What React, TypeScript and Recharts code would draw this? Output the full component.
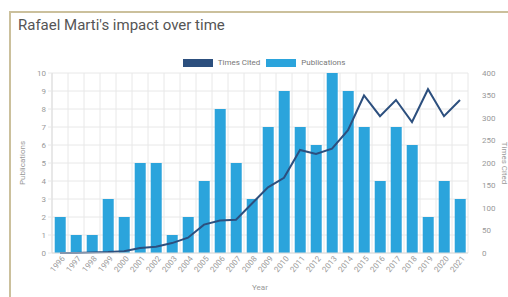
import React from "react";
import {
  ComposedChart,
  Bar,
  Line,
  XAxis,
  YAxis,
  CartesianGrid,
  Legend,
} from "recharts";

const years = [
  "1996", "1997", "1998", "1999", "2000", "2001", "2002", "2003", "2004",
  "2005", "2006", "2007", "2008", "2009", "2010", "2011", "2012", "2013",
  "2014", "2015", "2016", "2017", "2018", "2019", "2020", "2021",
];
const publications = [2, 1, 1, 3, 2, 5, 5, 1, 2, 4, 8, 5, 3, 7, 9, 7, 6, 10, 9, 7, 4, 7, 6, 2, 4, 3];
const timesCited = [0, 0, 1, 2, 4, 11, 14, 22, 34, 63, 72, 74, 110, 146, 167, 229, 220, 232, 273, 350, 304, 340, 291, 364, 304, 340];
const pubTicks = [0, 1, 2, 3, 4, 5, 6, 7, 8, 9, 10];
const citeTicks = [0, 50, 100, 150, 200, 250, 300, 350, 400];

const data = years.map((y, i) => ({
  year: y,
  Publications: publications[i],
  "Times Cited": timesCited[i],
}));

const BAR = "#2ba4dc";
const LINE = "#2c4f7e";
const TXT = "#999";
const GRID = "#e8e8e8";

function YearTick({ x, y, payload }: any) {
  return (
    <text
      x={x + 3}
      y={y}
      transform={`rotate(-50 ${x + 3} ${y})`}
      textAnchor="end"
      fontSize={8}
      fill={TXT}
      dy={3}
    >
      {payload.value}
    </text>
  );
}

function LegendBox() {
  const item = (label: string, color: string) => (
    <span style={{ display: "inline-flex", alignItems: "center", margin: "0 3px" }}>
      <span style={{ display: "inline-block", width: 30, height: 8, background: color, marginRight: 5 }} />
      <span style={{ fontSize: 8, color: "#777" }}>{label}</span>
    </span>
  );
  return (
    <div style={{ textAlign: "center", lineHeight: "10px" }}>
      {item("Times Cited", LINE)}
      {item("Publications", BAR)}
    </div>
  );
}

export default function App() {
  return (
    <div
      style={{
        position: "absolute",
        left: 0,
        top: 0,
        width: 508,
        height: 297,
        background: "#fff",
        overflow: "hidden",
        fontFamily: "Roboto, sans-serif",
      }}
    >
      <div
        style={{
          position: "absolute",
          left: 9,
          top: 11,
          width: 520,
          height: 300,
          borderTop: "2px solid #cbc09c",
          borderLeft: "2px solid #cbc09c",
        }}
      />
      <div
        style={{
          position: "absolute",
          left: 18,
          top: 16,
          fontSize: 15,
          color: "#555",
        }}
      >
        Rafael Marti's impact over time
      </div>
      <div style={{ position: "absolute", left: 0, top: 0 }}>
        <ComposedChart
          width={508}
          height={297}
          data={data}
          barCategoryGap="17%"
          margin={{ top: 73, right: 0, bottom: 0, left: 0 }}
        >
          <CartesianGrid
            yAxisId="left"
            stroke={GRID}
            verticalCoordinatesGenerator={({ offset }: any) =>
              years.map((_, i) => offset.left + (i * offset.width) / years.length).concat(offset.left + offset.width)
            }
          />
          <XAxis
            dataKey="year"
            height={44}
            interval={0}
            tickLine={false}
            tickSize={0}
            tickMargin={4}
            axisLine={{ stroke: "#ddd" }}
            tick={<YearTick />}
            label={{ value: "Year", position: "insideBottom", offset: 7, fontSize: 8, fill: TXT }}
          />
          <YAxis
            yAxisId="left"
            width={52}
            domain={[0, 10]}
            ticks={pubTicks}
            interval={0}
            tickSize={4}
            tickMargin={2}
            tickLine={{ stroke: GRID }}
            axisLine={{ stroke: "#ddd" }}
            tick={{ fontSize: 8, fill: TXT }}
            label={{
              value: "Publications",
              angle: -90,
              position: "insideLeft",
              offset: 22,
              fontSize: 8,
              fill: TXT,
              style: { textAnchor: "middle" },
            }}
          />
          <YAxis
            yAxisId="right"
            orientation="right"
            width={40}
            domain={[0, 400]}
            ticks={citeTicks}
            interval={0}
            tickSize={0}
            tickMargin={14}
            tickLine={false}
            axisLine={false}
            tick={{ fontSize: 8, fill: TXT }}
            label={{
              value: "Times Cited",
              angle: 90,
              position: "insideRight",
              offset: 3,
              fontSize: 8,
              fill: TXT,
              style: { textAnchor: "middle" },
            }}
          />
          <Legend
            layout="horizontal"
            verticalAlign="middle"
            align="center"
            content={<LegendBox />}
            wrapperStyle={{ top: 57, left: 10, width: 508, height: 12 }}
          />
          <Bar yAxisId="left" dataKey="Publications" fill={BAR} isAnimationActive={false} />
          <Line
            yAxisId="right"
            type="linear"
            dataKey="Times Cited"
            stroke={LINE}
            strokeWidth={2}
            dot={false}
            isAnimationActive={false}
          />
        </ComposedChart>
      </div>
    </div>
  );
}
